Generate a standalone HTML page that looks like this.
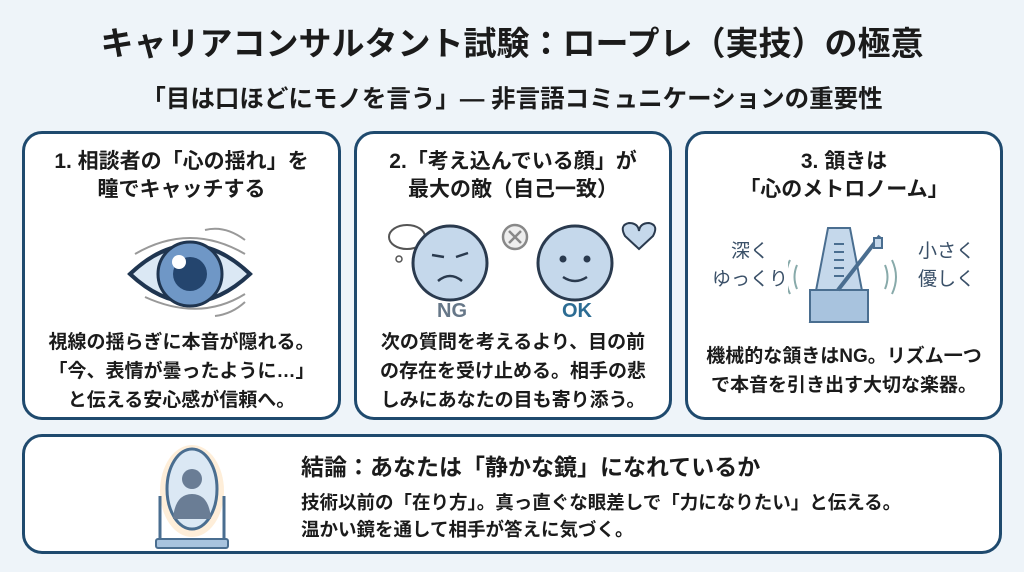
<!DOCTYPE html>
<html><head><meta charset="utf-8"><style>
*{margin:0;padding:0;box-sizing:border-box}
body{width:1024px;height:572px;background:#eef4f9;font-family:"Liberation Sans","Noto Sans CJK JP",sans-serif;color:#1b1b1b;position:relative;overflow:hidden}
.t{position:absolute;left:0;width:1024px;text-align:center;font-weight:bold;white-space:nowrap}
.p{position:absolute;background:#fff;border:3px solid #1f4a6e;border-radius:20px}
.h{position:absolute;left:-10px;right:-10px;text-align:center;font-weight:bold;font-size:21px;line-height:28px;white-space:nowrap}
.b{position:absolute;left:-10px;right:-10px;text-align:center;font-weight:bold;font-size:19px;line-height:29px;white-space:nowrap}
.a{position:absolute;white-space:nowrap}
</style></head><body>
<div class="t" style="top:20px;font-size:33px;line-height:48px">キャリアコンサルタント試験：ロープレ（実技）の極意</div>
<div class="t" style="top:83px;font-size:24.5px;line-height:34px">「目は口ほどにモノを言う」― 非言語コミュニケーションの重要性</div>

<div class="p" style="left:22px;top:131px;width:319px;height:289px">
 <div class="h" style="top:14px">1. 相談者の「心の揺れ」を<br>瞳でキャッチする</div>
 <svg class="a" style="left:95px;top:88px" width="150" height="110" viewBox="0 0 150 110">
  <path d="M10 52 Q70 -5 130 52 Q70 108 10 52Z" fill="#dbe8f4" stroke="#1f3550" stroke-width="4"/>
  <circle cx="70" cy="52" r="32" fill="#6f97c6" stroke="#1f3550" stroke-width="3"/>
  <circle cx="70" cy="52" r="17" fill="#24456e"/>
  <circle cx="59" cy="40" r="7" fill="#fff"/>
  <path d="M15 32 Q70 0 125 32M85 8 Q105 3 125 18M25 75 Q80 100 125 72M95 94 Q112 92 125 80" fill="none" stroke="#999" stroke-width="2"/>
 </svg>
 <div class="b" style="top:194px">視線の揺らぎに本音が隠れる。<br>「今、表情が曇ったように…」<br>と伝える安心感が信頼へ。</div>
</div>

<div class="p" style="left:354px;top:131px;width:318px;height:289px">
 <div class="h" style="top:14px">2.「考え込んでいる顔」が<br>最大の敵（自己一致）</div>
 <svg class="a" style="left:20px;top:85px" width="290" height="100" viewBox="0 0 290 100">
  <ellipse cx="30" cy="18" rx="18" ry="12" fill="#fff" stroke="#555" stroke-width="2"/>
  <circle cx="22" cy="40" r="3" fill="none" stroke="#555" stroke-width="1.5"/>
  <circle cx="73" cy="44" r="37" fill="#c5d8eb" stroke="#2a3a4e" stroke-width="3"/>
  <path d="M55 36 L67 38 M79 38 L91 34 M61 62 Q73 52 85 62" stroke="#2a3a4e" stroke-width="2.5" fill="none"/>
  <circle cx="138" cy="18" r="12" fill="#eee" stroke="#888" stroke-width="2.5"/>
  <path d="M132 12 L144 24 M144 12 L132 24" stroke="#888" stroke-width="2.5"/>
  <circle cx="198" cy="44" r="37" fill="#c5d8eb" stroke="#2a3a4e" stroke-width="3"/>
  <circle cx="186" cy="40" r="3.5" fill="#2a3a4e"/><circle cx="210" cy="40" r="3.5" fill="#2a3a4e"/>
  <path d="M186 58 Q198 66 210 58" stroke="#2a3a4e" stroke-width="2.5" fill="none"/>
  <path d="M262 30 L248 17 Q242 6 252 4 Q261 4 262 12 Q263 4 272 4 Q282 6 276 17Z" fill="#c5d8eb" stroke="#2a3a4e" stroke-width="2"/>
 </svg>
 <div class="a" style="left:80px;top:166px;font-weight:bold;font-size:20px;color:#667788">NG</div>
 <div class="a" style="left:205px;top:166px;font-weight:bold;font-size:20px;color:#2c6c93">OK</div>
 <div class="b" style="top:194px">次の質問を考えるより、目の前<br>の存在を受け止める。相手の悲<br>しみにあなたの目も寄り添う。</div>
</div>

<div class="p" style="left:685px;top:131px;width:318px;height:289px">
 <div class="h" style="top:14px">3. 頷きは<br>「心のメトロノーム」</div>
 <svg class="a" style="left:100px;top:88px" width="120" height="115" viewBox="0 0 120 115">
  <path d="M40 6 L62 6 L80 100 L22 100Z" fill="#c5d8eb" stroke="#4a6e90" stroke-width="2"/>
  <rect x="22" y="68" width="58" height="32" fill="#a8c3de" stroke="#4a6e90" stroke-width="2"/>
  <path d="M46 22 H56 M46 30 H56 M46 38 H56 M46 46 H56 M46 54 H56" stroke="#4a6e90" stroke-width="2"/>
  <path d="M50 68 L92 14" stroke="#4a6e90" stroke-width="4"/>
  <rect x="86" y="16" width="8" height="10" fill="#c5d8eb" stroke="#4a6e90" stroke-width="2"/>
  <path d="M2 38 Q-6 55 2 72 M9 43 Q4 55 9 67 M104 38 Q112 55 104 72 M97 43 Q102 55 97 67" stroke="#8aa" stroke-width="2" fill="none"/>
 </svg>
 <div class="a" style="left:24px;top:104px;font-size:19px;line-height:28px;color:#3a5068;text-align:center">深く<br>ゆっくり</div>
 <div class="a" style="left:230px;top:104px;font-size:19px;line-height:28px;color:#3a5068;text-align:center">小さく<br>優しく</div>
 <div class="b" style="top:208px">機械的な頷きはNG。リズム一つ<br>で本音を引き出す大切な楽器。</div>
</div>

<div class="p" style="left:22px;top:434px;width:980px;height:120px">
 <svg class="a" style="left:122px;top:4px" width="90" height="112" viewBox="0 0 90 112">
  <ellipse cx="45" cy="50" rx="32" ry="46" fill="#fde2c0" opacity=".6"/>
  <ellipse cx="45" cy="48" rx="25" ry="40" fill="#dbe8f4" stroke="#4a6e90" stroke-width="3"/>
  <circle cx="45" cy="38" r="10" fill="#6a7d95"/>
  <path d="M26 78 Q28 53 45 53 Q62 53 64 78Z" fill="#6a7d95"/>
  <path d="M13 55 V100 M77 55 V100" stroke="#4a6e90" stroke-width="3"/>
  <rect x="9" y="98" width="72" height="9" rx="2" fill="#a8c3de" stroke="#4a6e90" stroke-width="2"/>
 </svg>
 <div class="a" style="left:276px;top:14px;font-weight:bold;font-size:23px;line-height:32px">結論：あなたは「静かな鏡」になれているか</div>
 <div class="a" style="left:276px;top:52px;font-weight:bold;font-size:18.5px;line-height:27px">技術以前の「在り方」。真っ直ぐな眼差しで「力になりたい」と伝える。<br>温かい鏡を通して相手が答えに気づく。</div>
</div>
</body></html>
